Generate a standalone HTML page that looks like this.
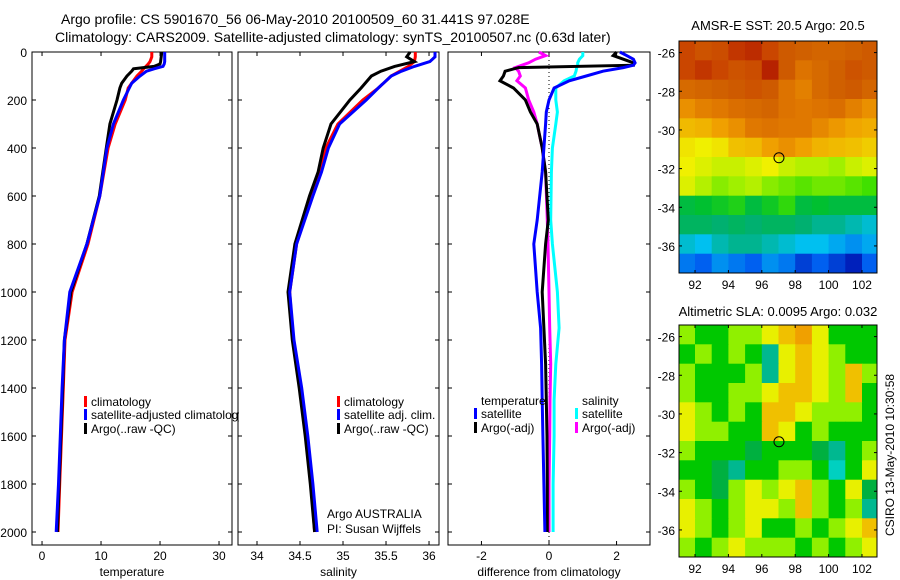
<!DOCTYPE html>
<html><head><meta charset="utf-8">
<style>
html,body{margin:0;padding:0;background:#fff;}
svg{display:block;font-family:"Liberation Sans",sans-serif;}
text{fill:#000;}
</style></head>
<body>
<svg id="fig" width="900" height="580" viewBox="0 0 900 580" xmlns="http://www.w3.org/2000/svg">
<text x="61" y="24" font-size="14">Argo profile: CS 5901670_56 06-May-2010 20100509_60 31.441S 97.028E</text>
<text x="55" y="42" font-size="14">Climatology: CARS2009. Satellite-adjusted climatology: synTS_20100507.nc (0.63d later)</text>
<g id="p1"></g>
<g id="p2"></g>
<g id="p3"></g>
<g id="m1"></g>
<g id="m2"></g>
<text x="778" y="30" font-size="13" text-anchor="middle">AMSR-E SST: 20.5 Argo: 20.5</text>
<text x="778" y="316" font-size="13" text-anchor="middle">Altimetric SLA: 0.0095 Argo: 0.032</text>
<text transform="translate(894,455) rotate(-90)" font-size="12" text-anchor="middle">CSIRO 13-May-2010 10:30:58</text>
</svg>
<script>
// ---- Profile data ----
const depthsT = [0,20,40,50,60,70,80,100,130,150,200,300,400,600,800,1000,1200,1400,1600,1800,2000];
const tempClim = [18.6,18.6,18.3,18.0,17.6,17.2,16.9,16.1,15.2,14.6,14.1,12.4,11.2,9.8,7.8,5.1,3.9,3.6,3.3,3.0,2.7];
const tempSat  = [20.8,20.8,20.8,20.7,20.5,19.0,17.7,16.6,15.2,14.8,13.8,12.1,11.0,9.8,7.6,4.7,3.8,3.4,3.1,2.8,2.4];
const tempArgo = [20.3,20.2,20.1,20.0,19.0,15.5,15.2,14.4,13.5,13.2,12.7,11.5,10.9,9.7,7.6,4.9,3.8,3.5,3.2,2.9,2.6];
const depthsS = [0,20,40,60,80,100,150,200,300,400,500,600,800,1000,1200,1400,1600,1800,2000];
const salClim = [35.84,35.84,35.83,35.76,35.66,35.56,35.41,35.23,34.94,34.80,34.73,34.63,34.46,34.38,34.42,34.50,34.57,34.63,34.67];
const salSat  = [36.07,36.07,36.01,35.83,35.68,35.56,35.41,35.27,34.96,34.83,34.75,34.65,34.46,34.38,34.43,34.52,34.59,34.65,34.70];
const salArgo = [35.78,35.74,35.83,35.60,35.44,35.33,35.21,35.08,34.86,34.77,34.71,34.61,34.44,34.36,34.41,34.49,34.56,34.62,34.67];
const depthsD = [0,15,30,45,55,65,80,100,120,150,200,250,300,400,500,700,800,1000,1150,1300,1450,1600,1800,2000];
const diffTempSat  = [2.1,2.3,2.5,2.55,2.5,2.2,1.6,1.1,0.6,0.15,0,-0.08,-0.1,-0.15,-0.2,-0.35,-0.45,-0.35,-0.25,-0.22,-0.2,-0.18,-0.15,-0.12];
const diffTempArgo = [2.0,1.9,2.2,2.5,2.5,-0.9,-1.3,-1.35,-1.45,-1.05,-0.7,-0.55,-0.35,-0.2,-0.1,-0.02,-0.1,-0.2,-0.15,-0.1,-0.08,-0.06,-0.05,-0.05];
const diffSalArgo  = [-0.3,-0.1,-0.4,-0.6,-0.8,-1.0,-0.9,-0.85,-0.95,-0.7,-0.6,-0.45,-0.35,-0.2,-0.1,-0.05,-0.03,0,0.02,0.05,0.03,0.02,0,0];
const diffSalSat   = [1.0,1.0,0.9,0.85,0.85,0.82,0.8,0.75,0.45,0.2,0.2,0.25,0.2,0.1,0.07,0.05,0.1,0.25,0.3,0.2,0.15,0.15,0.12,0.12];
const depthTicks = [0,200,400,600,800,1000,1200,1400,1600,1800,2000];
const tempTicks = [0,10,20,30];
const salTicks = [34,34.5,35,35.5,36];
const diffTicks = [-2,0,2];
// ---- Map data (1-degree cells, rows north->south from -25.4, cols west->east from 91) ----
const sstGrid = [
[22.8,22.6,22.7,23.0,23.1,22.8,22.5,22.4,22.3,22.3,22.4,22.5],
[22.8,23.0,22.8,22.6,22.7,23.2,22.5,22.0,22.2,22.4,22.6,22.5],
[22.2,22.3,22.4,22.5,22.6,22.5,22.0,21.8,22.2,22.4,22.5,22.3],
[21.6,21.8,21.9,22.1,22.2,22.3,22.0,21.9,22.0,22.1,21.8,21.6],
[21.0,21.1,21.4,21.6,21.9,22.0,21.9,21.9,21.7,21.5,21.3,21.2],
[20.6,20.5,20.6,20.9,21.0,21.4,21.6,21.4,21.1,21.0,20.9,20.8],
[20.5,20.4,20.3,20.3,20.4,20.5,20.3,20.2,20.2,20.1,20.3,20.4],
[20.4,20.2,20.0,20.1,20.2,20.0,19.9,19.8,19.9,19.9,19.8,19.7],
[19.2,19.3,19.4,19.5,19.2,19.4,19.6,19.2,19.3,19.2,19.2,19.2],
[19.0,19.0,18.9,19.0,18.9,19.0,19.0,18.9,18.8,18.8,18.7,18.6],
[18.6,18.5,18.7,18.8,18.8,18.7,18.6,18.5,18.5,18.4,18.3,18.4],
[18.2,18.1,18.3,18.2,18.1,18.3,18.2,18.0,18.1,18.0,17.9,18.1]];
const slaGrid = [
[1,0,0,1,1,2,3,4,2,0,0,0],
[0,1,0,1,0,-1,2,3,2,1,0,0],
[1,0,0,0,1,-1,2,3,2,1,3,1],
[1,0,0,1,1,2,3,3,2,1,3,0],
[2,1,0,1,0,3,3,2,1,1,1,0],
[2,1,1,0,0,3,2,0,1,0,0,0],
[1,0,0,0,-0.5,0,0,0,-0.5,-1,0,1],
[0,0,-0.5,-1,0,0,1,1,0,-1.5,0,2],
[1,0,-0.5,1,2,1,2,3,1,0,2,-0.5],
[2,1,0,1,2,2,1,3,1,0,1,-1],
[2,1,0,1,2,0,0,1,0,1,2,3],
[1,0,1,2,1,1,1,0,1,0,1,2]];
const latTicks = [-26,-28,-30,-32,-34,-36];
const lonTicks = [92,94,96,98,100,102];
const argoLon = 97.028, argoLat = -31.441;

const NS = 'http://www.w3.org/2000/svg';
function mk(tag, attrs, parent){const e=document.createElementNS(NS,tag);for(const k in attrs)e.setAttribute(k,attrs[k]);parent.appendChild(e);return e;}

const pTop=52, pBot=545;
const yD = d => pTop + d*0.24;

function panel(g, x0, x1, xmin, xmax, xticks, label, showY, name){
  const xs = v => x0 + (v-xmin)/(xmax-xmin)*(x1-x0);
  const r = mk('rect',{x:x0,y:pTop,width:x1-x0,height:pBot-pTop,fill:'none',stroke:'#000','stroke-width':1},g);
  
  
  depthTicks.forEach(d=>{
    const y=yD(d);
    mk('line',{x1:x0,y1:y,x2:x0+4,y2:y,stroke:'#000'},g);
    mk('line',{x1:x1-4,y1:y,x2:x1,y2:y,stroke:'#000'},g);
    if(showY){
      const t=mk('text',{x:x0-5,y:y+5,'font-size':12,'text-anchor':'end'},g);
      t.textContent=d;
      
      
    }
  });
  xticks.forEach(v=>{
    const x=xs(v);
    mk('line',{x1:x,y1:pBot,x2:x,y2:pBot-4,stroke:'#000'},g);
    mk('line',{x1:x,y1:pTop,x2:x,y2:pTop+4,stroke:'#000'},g);
    const t=mk('text',{x:x,y:560,'font-size':12,'text-anchor':'middle'},g);
    t.textContent=v;
    
    
  });
  const l=mk('text',{x:(x0+x1)/2,y:576,'font-size':12,'text-anchor':'middle'},g);
  l.textContent=label;
  
  
  return xs;
}
function line(g, xs, vals, depths, color, name){
  const pts = vals.map((v,i)=>xs(v).toFixed(1)+','+yD(depths[i]).toFixed(1)).join(' ');
  const p=mk('polyline',{points:pts,fill:'none',stroke:color,'stroke-width':3,'stroke-linejoin':'miter'},g);
  
  
}
function legendItem(g, x, y, color, text, name){
  if(color) mk('rect',{x:x,y:y-10,width:3,height:11,fill:color},g);
  const t=mk('text',{x:x+7,y:y,'font-size':12},g);
  t.textContent=text;
  
  
}

// Panel 1
const p1=document.getElementById('p1');
const xs1=panel(p1,32,232,-1.7,32.2,tempTicks,'temperature',true,'temperature');
line(p1,xs1,tempClim,depthsT,'#f00','temp-climatology-line');
line(p1,xs1,tempArgo,depthsT,'#000','temp-argo-line');
line(p1,xs1,tempSat,depthsT,'#00f','temp-satellite-line');
const clip=mk('clipPath',{id:'c1'},p1);mk('rect',{x:32,y:380,width:207,height:60},clip);
const lg1=mk('g',{'clip-path':'url(#c1)'},p1);


legendItem(lg1,84,406,'#f00','climatology','legend-climatology');
legendItem(lg1,84,419,'#00f','satellite-adjusted climatology','legend-satellite-adjusted');
legendItem(lg1,84,433,'#000','Argo(..raw -QC)','legend-argo');

// Panel 2
const p2=document.getElementById('p2');
const xs2=panel(p2,238,439,33.779,36.116,salTicks,'salinity',false,'salinity');
line(p2,xs2,salClim,depthsS,'#f00','sal-climatology-line');
line(p2,xs2,salArgo,depthsS,'#000','sal-argo-line');
line(p2,xs2,salSat,depthsS,'#00f','sal-satellite-line');
legendItem(p2,337,406,'#f00','climatology','legend-climatology');
legendItem(p2,337,419,'#00f','satellite adj. clim.','legend-satellite-adj');
legendItem(p2,337,433,'#000','Argo(..raw -QC)','legend-argo');
legendItem(p2,320,518,null,'Argo AUSTRALIA','argo-australia-label');
legendItem(p2,320,533,null,'PI: Susan Wijffels','pi-label');

// Panel 3
const p3=document.getElementById('p3');
const xs3=panel(p3,448,650,-2.99,2.99,diffTicks,'difference from climatology',false,'difference');
mk('line',{x1:xs3(0),y1:pTop,x2:xs3(0),y2:pBot,stroke:'#000','stroke-dasharray':'1,3'},p3);
line(p3,xs3,diffSalSat,depthsD,'#0ff','diff-sal-satellite-line');
line(p3,xs3,diffSalArgo,depthsD,'#f0f','diff-sal-argo-line');
line(p3,xs3,diffTempArgo,depthsD,'#000','diff-temp-argo-line');
line(p3,xs3,diffTempSat,depthsD,'#00f','diff-temp-satellite-line');
legendItem(p3,474,405,null,'temperature','legend-temperature-header');
legendItem(p3,474,418,'#00f','satellite','legend-temp-satellite');
legendItem(p3,474,432,'#000','Argo(-adj)','legend-temp-argo');
legendItem(p3,575,405,null,'salinity','legend-salinity-header');
legendItem(p3,575,418,'#0ff','satellite','legend-sal-satellite');
legendItem(p3,575,432,'#f0f','Argo(-adj)','legend-sal-argo');

// Maps
function hex(c){return [parseInt(c.slice(1,3),16),parseInt(c.slice(3,5),16),parseInt(c.slice(5,7),16)];}
function cmap(stops,v){
  if(v<=stops[0][0]) return stops[0][1];
  for(let i=1;i<stops.length;i++){
    if(v<=stops[i][0]){
      const a=hex(stops[i-1][1]),b=hex(stops[i][1]),t=(v-stops[i-1][0])/(stops[i][0]-stops[i-1][0]);
      return 'rgb('+a.map((x,k)=>Math.round(x+(b[k]-x)*t)).join(',')+')';
    }
  }
  return stops[stops.length-1][1];
}
const sstStops=[[17.8,'#0000a0'],[18.1,'#0060f0'],[18.5,'#00c0f0'],[18.9,'#00b070'],[19.3,'#00c030'],[19.7,'#40e000'],[20.1,'#a0f000'],[20.5,'#f0f000'],[20.9,'#f0c000'],[21.4,'#f0a000'],[21.9,'#e07800'],[22.4,'#d06000'],[22.9,'#c84000'],[23.3,'#b01800']];
const slaStops=[[-1.5,'#00d0c0'],[-1,'#00b890'],[-0.5,'#00b040'],[0,'#00c800'],[1,'#90f000'],[2,'#e8f000'],[3,'#f0c000'],[4,'#f0a000']];
function map(g, y0, grid, stops, name){
  const x0=679,x1=877,y1=y0+232;
  const lonMin=91.04,lonMax=102.9,latTop=-25.4,latBot=-37.4;
  const lx=lon=>x0+(lon-lonMin)/(lonMax-lonMin)*(x1-x0);
  const ly=lat=>y0+(latTop-lat)/(latTop-latBot)*(y1-y0);
  const cp=mk('clipPath',{id:'cp'+name},g);mk('rect',{x:x0,y:y0,width:x1-x0,height:y1-y0},cp);
  const cg=mk('g',{'clip-path':'url(#cp'+name+')'},g);
  grid.forEach((row,r)=>row.forEach((v,c)=>{
    const xa=lx(91+c),xb=lx(92+c),ya=ly(-25.4-r),yb=ly(-26.4-r);
    const cell=mk('rect',{x:xa.toFixed(1),y:ya.toFixed(1),width:(xb-xa+0.6).toFixed(1),height:(yb-ya+0.6).toFixed(1),fill:cmap(stops,v)},cg);
    
    
  }));
  mk('rect',{x:x0,y:y0,width:x1-x0,height:y1-y0,fill:'none',stroke:'#000'},g);
  latTicks.forEach(l=>{const y=ly(l);
    mk('line',{x1:x0,y1:y,x2:x0+3,y2:y,stroke:'#000'},g);mk('line',{x1:x1-3,y1:y,x2:x1,y2:y,stroke:'#000'},g);
    const t=mk('text',{x:x0-4,y:y+5,'font-size':12,'text-anchor':'end'},g);t.textContent=l;
    
    });
  lonTicks.forEach(l=>{const x=lx(l);
    mk('line',{x1:x,y1:y1,x2:x,y2:y1-3,stroke:'#000'},g);mk('line',{x1:x,y1:y0,x2:x,y2:y0+3,stroke:'#000'},g);
    const t=mk('text',{x:x,y:y1+16,'font-size':12,'text-anchor':'middle'},g);t.textContent=l;
    
    });
  const c=mk('circle',{cx:lx(argoLon),cy:ly(argoLat),r:5,fill:'none',stroke:'#000'},g);
  
  
}
map(document.getElementById('m1'),41,sstGrid,sstStops,'sst');
map(document.getElementById('m2'),325,slaGrid,slaStops,'sla');
</script>
</body></html>
